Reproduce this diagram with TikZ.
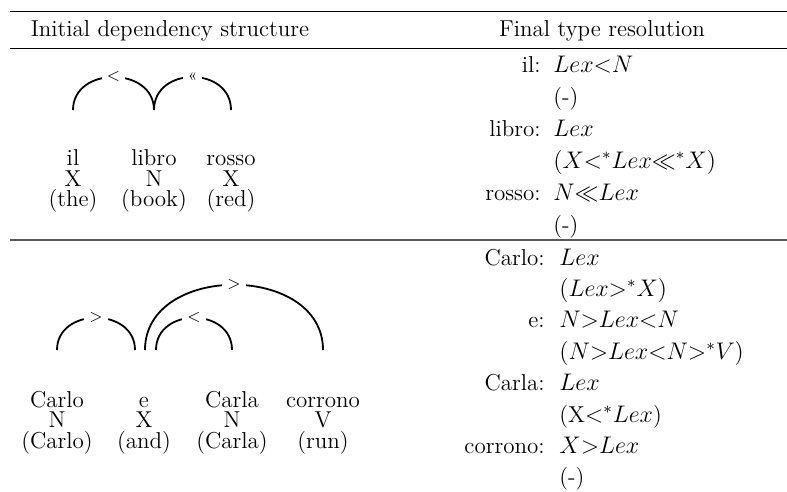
\documentclass[tikz,border=0pt]{standalone}
\usetikzlibrary{calc}

\begin{document}
\begin{tikzpicture}[
  x=0.5pt, y=-0.5pt,
  font=\fontsize{11.5}{14}\selectfont,
  rule/.style={line width=0.5pt, draw=black},
  midrule/.style={line width=1pt, draw=black!65},
  word/.style={align=center, anchor=base, inner sep=0pt, font=\fontsize{11.5}{10.25}\selectfont},
  dep/.style={line width=0.9pt, draw=black},
  deplabel/.style={fill=white, inner xsep=2.5pt, inner ysep=0.5pt, font=\fontsize{8}{9}\selectfont},
  reslabel/.style={anchor=base east, inner sep=0pt},
  restype/.style={anchor=base west, inner sep=0pt}
]
\useasboundingbox (0,0) rectangle (787,492);

% Table rules and headings.
\draw[rule] (10,12) -- (787,12);
\draw[rule] (10,49) -- (787,49);
\draw[midrule] (10,239.5) -- (787,239.5);
\node[anchor=base] (headdep) at (170,37) {Initial dependency structure};
\node[anchor=base] (headres) at (602,37) {Final type resolution};

% First sentence.
\coordinate (feetA) at (0,110);
\node[word] (il) at (73,206.5) {il\\X\\(the)};
\node[word] (libro) at (154,206.5) {libro\\N\\(book)};
\node[word] (rosso) at (231,206.5) {rosso\\X\\(red)};

\draw[dep] (il |- feetA) .. controls +(0,-44) and +(0,-44) .. node[deplabel] {$<$} (libro |- feetA);
\draw[dep] (libro |- feetA) .. controls +(0,-44) and +(0,-44) .. node[deplabel] {«} (rosso |- feetA);

% Second sentence.
\coordinate (feetB) at (0,350);
\node[word] (carlo) at (57,448) {Carlo\\N\\(Carlo)};
\node[word] (e) at (144,448) {e\\X\\(and)};
\node[word] (carla) at (232,448) {Carla\\N\\(Carla)};
\node[word] (corrono) at (323,448) {corrono\\V\\(run)};

\draw[dep] (carlo |- feetB) .. controls +(0,-43) and +(0,-43) .. node[deplabel] {$>$} ([xshift=-4.5pt]e |- feetB);
\draw[dep] ([xshift=0.5pt]e |- feetB) .. controls +(0,-87) and +(0,-87) .. node[deplabel] {$>$} (corrono |- feetB);
\draw[dep] ([xshift=6pt]e |- feetB) .. controls +(0,-43) and +(0,-43) .. node[deplabel] {$<$} (carla |- feetB);

% Type resolution column.
\foreach \w/\res/\ctx [count=\i from 0] in {il:/{$Lex{<}N$}/(-), libro:/{$Lex$}/{$(X{<^*}Lex{\ll^*}X)$}, rosso:/{$N{\ll}Lex$}/(-)} {
  \node[reslabel] (utag\i) at (541,73+63.6*\i) {\w};
  \node[restype] (utype\i) at (553,73+63.6*\i) {\res};
  \node[restype] (uctx\i) at (553,104.8+63.6*\i) {\ctx};
}
\foreach \w/\res/\ctx [count=\i from 0] in {Carlo:/{$Lex$}/{$(Lex{>^*}X)$}, e:/{$N{>}Lex{<}N$}/{$(N{>}Lex{<}N{>^*}V)$}, Carla:/{$Lex$}/{(X${<^*}Lex$)}, corrono:/{$X{>}Lex$}/(-)} {
  \node[reslabel] (ltag\i) at (545,265+62.8*\i) {\w};
  \node[restype] (ltype\i) at (559,265+62.8*\i) {\res};
  \node[restype] (lctx\i) at (559,296.4+62.8*\i) {\ctx};
}

\end{tikzpicture}
\end{document}
